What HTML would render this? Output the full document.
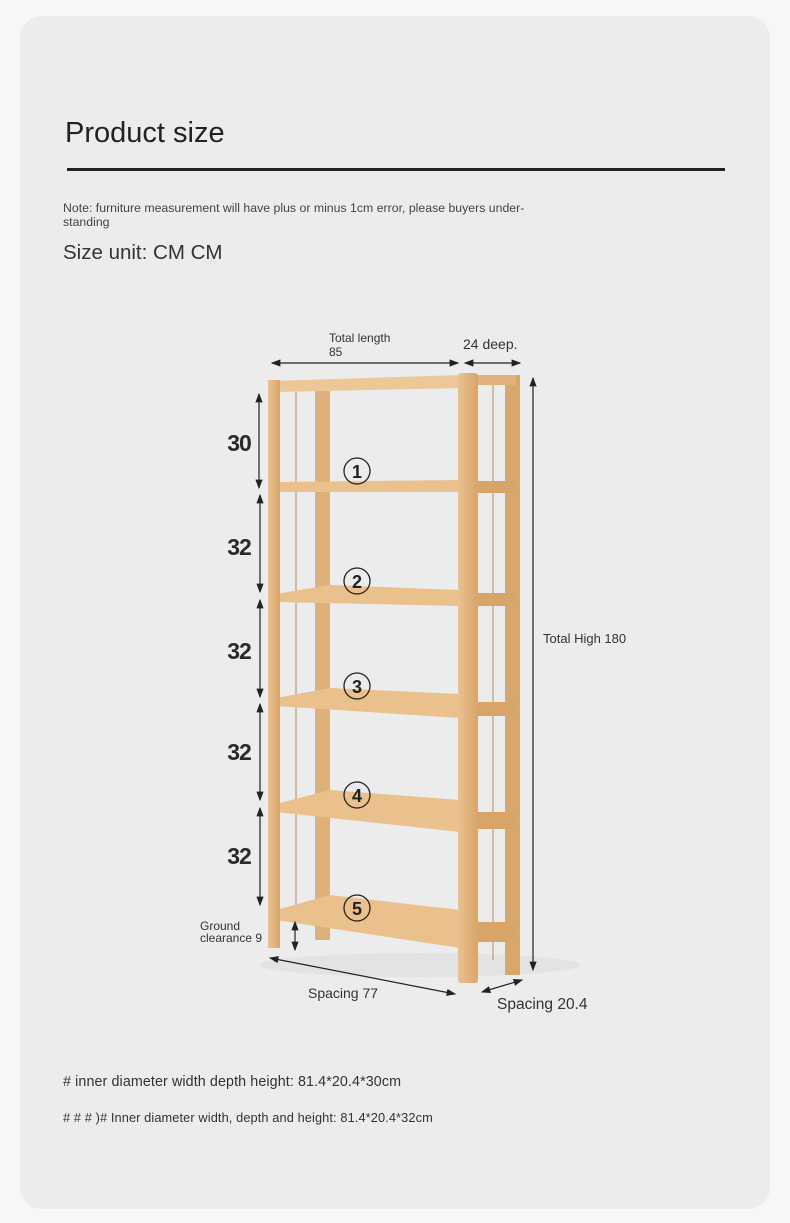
<!DOCTYPE html>
<html><head><meta charset="utf-8"><style>
body{margin:0;width:790px;height:1223px;background:#f7f7f7;font-family:"Liberation Sans",sans-serif;}
.card{position:absolute;left:20px;top:16px;width:750px;height:1193px;background:#ececec;border-radius:22px;}
svg{position:absolute;left:0;top:0}
</style></head><body>
<div class="card"></div>
<svg width="790" height="1223" viewBox="0 0 790 1223" font-family="Liberation Sans, sans-serif">
<defs>
<marker id="a" markerWidth="8" markerHeight="8" refX="7" refY="4" orient="auto-start-reverse"><path d="M0,1 L8,4 L0,7z" fill="#222"/></marker>
<linearGradient id="w" x1="0" x2="1"><stop offset="0" stop-color="#e9c28f"/><stop offset="1" stop-color="#d9a56b"/></linearGradient>
</defs>
<text x="65" y="142" font-size="29" fill="#222">Product size</text>
<rect x="67" y="168" width="658" height="3" fill="#222"/>
<text x="63" y="212" font-size="12.3" fill="#444">Note: furniture measurement will have plus or minus 1cm error, please buyers under-</text>
<text x="63" y="226" font-size="12.3" fill="#444">standing</text>
<text x="63" y="259" font-size="20.5" fill="#333">Size unit: CM CM</text>

<ellipse cx="420" cy="965" rx="160" ry="12" fill="#e3e3e3"/>
<rect x="315" y="390" width="15" height="550" fill="#deb07a"/>
<rect x="505" y="375" width="15" height="600" fill="#d9a66c"/>
<line x1="296" y1="392" x2="296" y2="930" stroke="#b98a5a" stroke-width="1"/>
<line x1="493" y1="380" x2="493" y2="960" stroke="#b98a5a" stroke-width="1"/>
<polygon points="272,381 462,375 462,388 276,392" fill="#edc797"/>
<rect x="476" y="375" width="40" height="10" fill="#e3b27a"/>
<g fill="#eac08c">
<polygon points="276,482 460,480 460,492 276,492"/>
<polygon points="276,594 330,585 460,590 460,606 276,602"/>
<polygon points="276,698 330,688 460,694 460,718 276,706"/>
<polygon points="276,804 330,790 460,800 460,832 276,812"/>
<polygon points="276,910 330,895 460,910 460,948 276,920"/>
</g>
<g fill="#d9a468">
<rect x="476" y="481" width="40" height="12"/>
<rect x="476" y="593" width="40" height="13"/>
<rect x="476" y="702" width="40" height="14"/>
<rect x="476" y="812" width="40" height="17"/>
<rect x="476" y="922" width="40" height="20"/>
</g>
<rect x="268" y="380" width="12" height="568" fill="url(#w)"/>
<rect x="458" y="373" width="20" height="610" rx="3" fill="url(#w)"/>

<g font-size="18" font-weight="bold" fill="#222" text-anchor="middle">
<circle cx="357" cy="471" r="13" fill="none" stroke="#222" stroke-width="1.3"/><text x="357" y="478">1</text>
<circle cx="357" cy="581" r="13" fill="none" stroke="#222" stroke-width="1.3"/><text x="357" y="588">2</text>
<circle cx="357" cy="686" r="13" fill="none" stroke="#222" stroke-width="1.3"/><text x="357" y="693">3</text>
<circle cx="357" cy="795" r="13" fill="none" stroke="#222" stroke-width="1.3"/><text x="357" y="802">4</text>
<circle cx="357" cy="908" r="13" fill="none" stroke="#222" stroke-width="1.3"/><text x="357" y="915">5</text>
</g>
<g stroke="#222" stroke-width="1.2">
<line x1="272" y1="363" x2="458" y2="363" marker-start="url(#a)" marker-end="url(#a)"/>
<line x1="465" y1="363" x2="520" y2="363" marker-start="url(#a)" marker-end="url(#a)"/>
<line x1="533" y1="378" x2="533" y2="970" marker-start="url(#a)" marker-end="url(#a)"/>
<line x1="259" y1="394" x2="259" y2="488" marker-start="url(#a)" marker-end="url(#a)"/>
<line x1="260" y1="495" x2="260" y2="592" marker-start="url(#a)" marker-end="url(#a)"/>
<line x1="260" y1="600" x2="260" y2="697" marker-start="url(#a)" marker-end="url(#a)"/>
<line x1="260" y1="704" x2="260" y2="800" marker-start="url(#a)" marker-end="url(#a)"/>
<line x1="260" y1="808" x2="260" y2="905" marker-start="url(#a)" marker-end="url(#a)"/>
<line x1="295" y1="922" x2="295" y2="950" marker-start="url(#a)" marker-end="url(#a)"/>
<line x1="270" y1="958" x2="455" y2="994" marker-start="url(#a)" marker-end="url(#a)"/>
<line x1="482" y1="992" x2="522" y2="980" marker-start="url(#a)" marker-end="url(#a)"/>
</g>
<g fill="#333">
<text x="329" y="342" font-size="12">Total length</text>
<text x="329" y="356" font-size="12">85</text>
<text x="463" y="349" font-size="14">24 deep.</text>
<text x="543" y="643" font-size="13">Total High 180</text>
<text x="200" y="930" font-size="12">Ground</text>
<text x="200" y="942" font-size="12">clearance 9</text>
<text x="308" y="998" font-size="14">Spacing 77</text>
<text x="497" y="1009" font-size="15.5">Spacing 20.4</text>
</g>
<g font-size="23" font-weight="bold" fill="#2a2a2a" text-anchor="middle" letter-spacing="-1">
<text x="239" y="451">30</text><text x="239" y="555">32</text><text x="239" y="659">32</text><text x="239" y="760">32</text><text x="239" y="864">32</text>
</g>
<text x="63" y="1086" font-size="14.3" fill="#333" letter-spacing="0.1">#  inner diameter width depth height: 81.4*20.4*30cm</text>
<text x="63" y="1122" font-size="12.8" fill="#333" letter-spacing="0.1"># # # )# Inner diameter width, depth and height: 81.4*20.4*32cm</text>
</svg>
</body></html>
